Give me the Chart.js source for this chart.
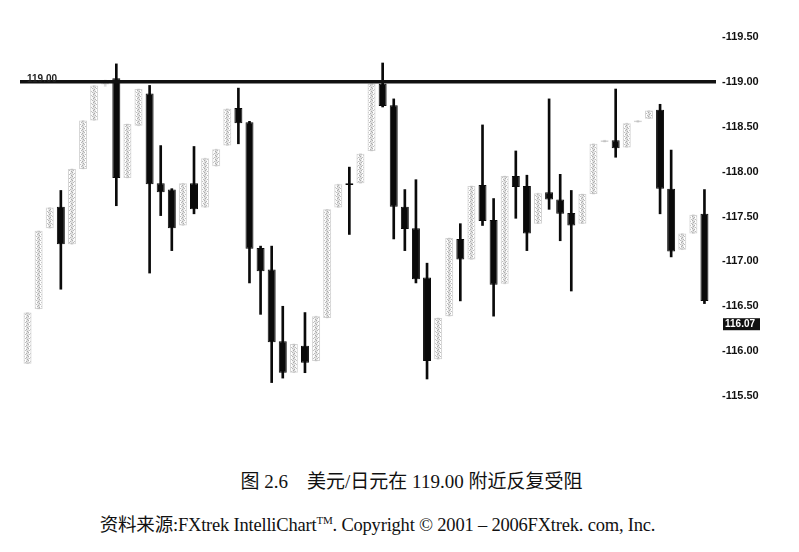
<!DOCTYPE html>
<html>
<head>
<meta charset="utf-8">
<script src="https://cdn.jsdelivr.net/npm/chart.js@4.4.0/dist/chart.umd.min.js"></script>
<style>
  body { margin: 0; background: #fff; }
  #wrap { position: relative; width: 799px; height: 552px; background: #fff; overflow: hidden; }
  #chart { position: absolute; left: 0; top: 0; }
  .cap { position: absolute; left: 0; width: 799px; text-align: center; color: #111;
         font-family: "Liberation Serif", "Noto Sans CJK SC", serif; white-space: nowrap; }
  #cap1 { top: 466px; font-size: 19px; padding-left: 12px; }
  #cap2 { top: 510px; font-size: 18.5px; margin-left: -22px; letter-spacing: -0.2px; }
</style>
</head>
<body>
<div id="wrap">
  <canvas id="chart" width="799" height="430"></canvas>
  <div class="cap" id="cap1">图 2.6&nbsp;&nbsp;&nbsp;&nbsp;美元/日元在 119.00 附近反复受阻</div>
  <div class="cap" id="cap2">资料来源:FXtrek IntelliChart<sup style="font-size:11px">TM</sup>. Copyright &copy; 2001 &ndash; 2006FXtrek. com, Inc.</div>
</div>
<script>
// candle data (USD/JPY)
const opens  = [115.86, 116.47, 117.37, 117.61, 117.19, 118.03, 118.57, 118.97, 119.04, 117.93,
                118.51, 118.87, 117.87, 117.80, 117.40, 117.87, 117.60, 118.06, 118.29, 118.71,
                118.55, 117.15, 116.91, 116.11, 115.76, 116.06, 115.89, 116.37, 117.60, 117.87,
                117.87, 118.23, 118.98, 118.74, 117.61, 117.37, 116.82, 115.91, 116.39, 117.25,
                117.02, 117.85, 117.46, 116.75, 117.95, 117.84, 117.42, 117.77, 117.69, 117.54,
                117.42, 117.75, 118.33, 118.35, 118.27, 118.55, 118.59, 118.69, 117.81, 117.13,
                117.31, 117.53];
const highs  = [116.43, 117.34, 117.60, 117.79, 118.03, 118.57, 118.96, 119.02, 119.20, 118.53,
                118.92, 118.96, 118.29, 117.81, 117.87, 118.28, 118.15, 118.25, 118.70, 118.93,
                118.56, 117.17, 117.17, 116.50, 116.08, 116.43, 116.39, 117.58, 117.86, 118.05,
                118.20, 118.98, 119.21, 118.81, 117.80, 117.91, 116.98, 116.37, 117.26, 117.42,
                117.84, 118.52, 117.70, 117.95, 118.23, 117.96, 117.76, 118.81, 117.97, 117.79,
                117.75, 118.31, 118.35, 118.92, 118.54, 118.57, 118.68, 118.75, 118.24, 117.31,
                117.52, 117.80];
const lows   = [115.86, 116.47, 117.37, 116.69, 117.19, 118.03, 118.57, 118.95, 117.62, 117.93,
                118.51, 116.87, 117.51, 117.12, 117.40, 117.53, 117.60, 118.06, 118.29, 118.31,
                116.76, 116.41, 115.65, 115.70, 115.76, 115.76, 115.89, 116.37, 117.60, 117.30,
                117.87, 118.23, 118.72, 117.25, 117.12, 116.76, 115.69, 115.91, 116.39, 116.56,
                117.02, 117.40, 116.39, 116.75, 117.48, 117.12, 117.42, 117.58, 117.23, 116.67,
                117.42, 117.75, 118.33, 118.16, 118.27, 118.55, 118.59, 117.53, 117.05, 117.13,
                117.31, 116.53];
const closes = [116.43, 117.34, 117.60, 117.19, 118.03, 118.57, 118.96, 119.01, 117.93, 118.53,
                118.92, 117.86, 117.77, 117.37, 117.87, 117.58, 118.15, 118.25, 118.70, 118.54,
                117.14, 116.89, 116.10, 115.76, 116.08, 115.87, 116.39, 117.58, 117.86, 117.85,
                118.20, 118.98, 118.73, 117.61, 117.36, 116.80, 115.89, 116.37, 117.26, 117.02,
                117.84, 117.45, 116.74, 117.95, 117.83, 117.31, 117.76, 117.69, 117.53, 117.40,
                117.75, 118.31, 118.35, 118.26, 118.54, 118.57, 118.68, 117.81, 117.11, 117.31,
                117.52, 116.56];
const labels = opens.map((_, i) => String(i + 1));
const yTicks = [115.5, 116.0, 116.5, 117.0, 117.5, 118.0, 118.5, 119.0, 119.5];
const resistance = 119.00;
const lastLabel = '116.07';
const lastLabelAt = 116.30;

// speckled fill for the hollow (up) candles, like the scan
const pc = document.createElement('canvas');
pc.width = 4; pc.height = 4;
const px = pc.getContext('2d');
px.fillStyle = 'rgba(110,110,110,0.45)';
px.fillRect(0, 0, 1, 1); px.fillRect(2, 1, 1, 1); px.fillRect(1, 2, 1, 1); px.fillRect(3, 3, 1, 1);
const speckle = px.createPattern(pc, 'repeat');

const isDown = opens.map((o, i) => closes[i] < o);

const linePlugin = {
  id: 'resistance',
  afterDatasetsDraw(chart) {
    const { ctx, chartArea, scales } = chart;
    const y = scales.y.getPixelForValue(resistance);
    ctx.save();
    ctx.strokeStyle = '#111';
    ctx.lineWidth = 3.5;
    ctx.beginPath();
    ctx.moveTo(chartArea.left - 2, y);
    ctx.lineTo(chartArea.right + 6, y);
    ctx.stroke();
    ctx.fillStyle = '#222';
    ctx.font = 'bold 10px "Liberation Sans", Arial';
    ctx.textBaseline = 'bottom';
    ctx.fillText(resistance.toFixed(2), chartArea.left + 5, y + 2);
    // last price box
    const by = scales.y.getPixelForValue(lastLabelAt);
    ctx.fillStyle = '#111';
    ctx.fillRect(chartArea.right + 13, by - 6, 37, 12);
    ctx.fillStyle = '#fff';
    ctx.font = 'bold 10px "Liberation Sans", Arial';
    ctx.textBaseline = 'middle';
    ctx.fillText(lastLabel, chartArea.right + 15, by + 0.5);
    ctx.restore();
  }
};

new Chart(document.getElementById('chart'), {
  type: 'bar',
  data: {
    labels: labels,
    datasets: [{
      // bodies
      data: opens.map((o, i) => [o, closes[i]]),
      backgroundColor: isDown.map(d => d ? '#0a0a0a' : speckle),
      borderColor: isDown.map(d => d ? '#0a0a0a' : 'rgba(170,170,170,0.5)'),
      borderWidth: 1,
      borderSkipped: false,
      grouped: false,
      barPercentage: 0.72,
      categoryPercentage: 1
    }, {
      // wicks
      data: lows.map((l, i) => [l, highs[i]]),
      backgroundColor: isDown.map(d => d ? '#0a0a0a' : 'rgba(170,170,170,0.4)'),
      grouped: false,
      barThickness: 2
    }]
  },
  options: {
    responsive: false,
    animation: false,
    layout: { padding: { left: 22, top: 19, bottom: 16, right: 0 } },
    plugins: { legend: { display: false }, tooltip: { enabled: false } },
    scales: {
      x: { display: false, offset: true },
      y: {
        position: 'right',
        min: 115.3,
        max: 119.7,
        afterBuildTicks: axis => { axis.ticks = yTicks.map(v => ({ value: v })); },
        afterFit: axis => { axis.width = 89; },
        grid: { display: false },
        border: { display: false },
        ticks: {
          padding: 4,
          color: '#111',
          font: { family: '"Liberation Sans", Arial', weight: 'bold', size: 11 },
          callback: v => '-' + Number(v).toFixed(2)
        }
      }
    }
  },
  plugins: [linePlugin]
});
</script>
</body>
</html>
